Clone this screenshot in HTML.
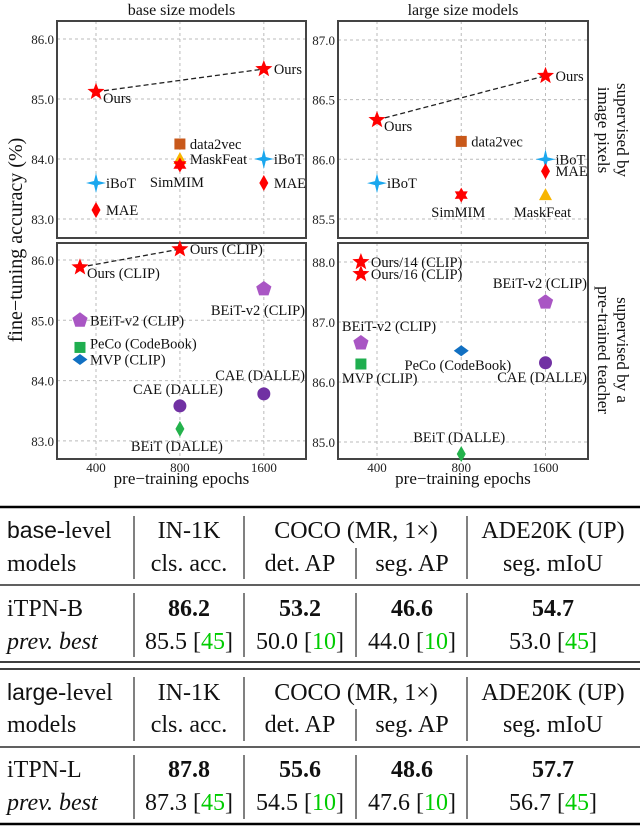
<!DOCTYPE html>
<html><head><meta charset="utf-8"><style>
body{margin:0;background:#fff;}
svg{display:block;font-family:"Liberation Serif",serif;}
</style></head><body>
<svg id="fig" width="640" height="827" viewBox="0 0 640 827">
<g id="charts"></g>
<g id="table" font-size="24" fill="#111">
  <line x1="0" y1="507" x2="640" y2="507" stroke="#000" stroke-width="2.5"/>
  <line x1="0" y1="585" x2="640" y2="585" stroke="#000" stroke-width="1.2"/>
  <line x1="0" y1="662" x2="640" y2="662" stroke="#000" stroke-width="1.5"/>
  <line x1="0" y1="669" x2="640" y2="669" stroke="#000" stroke-width="1.5"/>
  <line x1="0" y1="747" x2="640" y2="747" stroke="#000" stroke-width="1.2"/>
  <line x1="0" y1="824" x2="640" y2="824" stroke="#000" stroke-width="2.5"/>
  <g stroke="#000" stroke-width="1">
    <line x1="134" y1="516" x2="134" y2="579"/><line x1="244" y1="516" x2="244" y2="579"/><line x1="356" y1="548" x2="356" y2="579"/><line x1="467" y1="516" x2="467" y2="579"/>
    <line x1="134" y1="593" x2="134" y2="657"/><line x1="244" y1="593" x2="244" y2="657"/><line x1="356" y1="593" x2="356" y2="657"/><line x1="467" y1="593" x2="467" y2="657"/>
    <line x1="134" y1="677" x2="134" y2="741"/><line x1="244" y1="677" x2="244" y2="741"/><line x1="356" y1="709" x2="356" y2="741"/><line x1="467" y1="677" x2="467" y2="741"/>
    <line x1="134" y1="755" x2="134" y2="819"/><line x1="244" y1="755" x2="244" y2="819"/><line x1="356" y1="755" x2="356" y2="819"/><line x1="467" y1="755" x2="467" y2="819"/>
  </g>
  <g>
    <text x="7" y="538"><tspan font-family="Liberation Sans, sans-serif" font-size="23">base</tspan>-level</text>
    <text x="7" y="571">models</text>
    <text x="189" y="538" text-anchor="middle">IN-1K</text>
    <text x="189" y="571" text-anchor="middle">cls. acc.</text>
    <text x="356" y="538" text-anchor="middle">COCO (MR, 1×)</text>
    <text x="300" y="571" text-anchor="middle">det. AP</text>
    <text x="412" y="571" text-anchor="middle">seg. AP</text>
    <text x="553" y="538" text-anchor="middle">ADE20K (UP)</text>
    <text x="553" y="571" text-anchor="middle">seg. mIoU</text>
  </g>
  <g>
    <text x="7" y="616">iTPN-B</text>
    <text x="189" y="616" text-anchor="middle" font-weight="bold">86.2</text>
    <text x="300" y="616" text-anchor="middle" font-weight="bold">53.2</text>
    <text x="412" y="616" text-anchor="middle" font-weight="bold">46.6</text>
    <text x="553" y="616" text-anchor="middle" font-weight="bold">54.7</text>
    <text x="7" y="649" font-style="italic">prev. best</text>
    <text x="189" y="649" text-anchor="middle">85.5 [<tspan fill="#0c0">45</tspan>]</text>
    <text x="300" y="649" text-anchor="middle">50.0 [<tspan fill="#0c0">10</tspan>]</text>
    <text x="412" y="649" text-anchor="middle">44.0 [<tspan fill="#0c0">10</tspan>]</text>
    <text x="553" y="649" text-anchor="middle">53.0 [<tspan fill="#0c0">45</tspan>]</text>
  </g>
  <g>
    <text x="7" y="700"><tspan font-family="Liberation Sans, sans-serif" font-size="23">large</tspan>-level</text>
    <text x="7" y="732">models</text>
    <text x="189" y="700" text-anchor="middle">IN-1K</text>
    <text x="189" y="732" text-anchor="middle">cls. acc.</text>
    <text x="356" y="700" text-anchor="middle">COCO (MR, 1×)</text>
    <text x="300" y="732" text-anchor="middle">det. AP</text>
    <text x="412" y="732" text-anchor="middle">seg. AP</text>
    <text x="553" y="700" text-anchor="middle">ADE20K (UP)</text>
    <text x="553" y="732" text-anchor="middle">seg. mIoU</text>
  </g>
  <g>
    <text x="7" y="777">iTPN-L</text>
    <text x="189" y="777" text-anchor="middle" font-weight="bold">87.8</text>
    <text x="300" y="777" text-anchor="middle" font-weight="bold">55.6</text>
    <text x="412" y="777" text-anchor="middle" font-weight="bold">48.6</text>
    <text x="553" y="777" text-anchor="middle" font-weight="bold">57.7</text>
    <text x="7" y="810" font-style="italic">prev. best</text>
    <text x="189" y="810" text-anchor="middle">87.3 [<tspan fill="#0c0">45</tspan>]</text>
    <text x="300" y="810" text-anchor="middle">54.5 [<tspan fill="#0c0">10</tspan>]</text>
    <text x="412" y="810" text-anchor="middle">47.6 [<tspan fill="#0c0">10</tspan>]</text>
    <text x="553" y="810" text-anchor="middle">56.7 [<tspan fill="#0c0">45</tspan>]</text>
  </g>
</g>
</svg>
<script>
// ---- data ----
const xEpochTicks = [400, 800, 1600];
const xTickLabels = ["400", "800", "1600"];
// top-left: base, image pixels
const tlNames = ["Ours","Ours","data2vec","MaskFeat","SimMIM","iBoT","iBoT","MAE","MAE"];
const tlEpochs = [400,1600,800,800,800,400,1600,400,1600];
const tlAcc = [85.12,85.5,84.25,84.0,83.9,83.6,84.0,83.15,83.6];
const tlTicks = [83.0,84.0,85.0,86.0];
// top-right: large, image pixels
const trNames = ["Ours","Ours","data2vec","iBoT","iBoT","SimMIM","MAE","MaskFeat"];
const trEpochs = [400,1600,800,400,1600,800,1600,1600];
const trAcc = [86.33,86.7,86.15,85.8,86.0,85.7,85.9,85.7];
const trTicks = [85.5,86.0,86.5,87.0];
// bottom-left: base, teacher
const blNames = ["Ours (CLIP)","Ours (CLIP)","BEiT-v2 (CLIP)","BEiT-v2 (CLIP)","PeCo (CodeBook)","MVP (CLIP)","CAE (DALLE)","CAE (DALLE)","BEiT (DALLE)"];
const blEpochs = [300,800,1600,300,300,300,800,1600,800];
const blAcc = [85.88,86.18,85.52,85.0,84.55,84.35,83.58,83.78,83.2];
const blTicks = [83.0,84.0,85.0,86.0];
// bottom-right: large, teacher
const brNames = ["Ours/14 (CLIP)","Ours/16 (CLIP)","BEiT-v2 (CLIP)","BEiT-v2 (CLIP)","MVP (CLIP)","PeCo (CodeBook)","CAE (DALLE)","BEiT (DALLE)"];
const brEpochs = [300,300,1600,300,300,800,1600,800];
const brAcc = [88.0,87.8,87.33,86.65,86.3,86.52,86.32,84.8];
const brTicks = [85.0,86.0,87.0,88.0];

// ---- styling (not data) ----
const C = {red:"#ff0000",ibot:"#1aa7ee",d2v:"#c8581a",mf:"#f7b500",pent:"#a956c4",peco:"#1fae4f",mvp:"#1170c2",cae:"#7131a3",beit:"#24b24c"};
const panels = [
 {key:"tl",names:tlNames,ep:tlEpochs,acc:tlAcc,ticks:tlTicks,x0:57,x1:306,y0:21,y1:238,yv0:86.0,yp0:39,ppu:60,
  mk:["star","star","square","tri","star6","star4","star4","diamond","diamond"],
  col:[C.red,C.red,C.d2v,C.mf,C.red,C.ibot,C.ibot,C.red,C.red],
  lab:["rb","r","r","r","b","r","r","r","r"],line:[0,1],title:"base size models"},
 {key:"tr",names:trNames,ep:trEpochs,acc:trAcc,ticks:trTicks,x0:338,x1:588,y0:21,y1:238,yv0:87.0,yp0:40,ppu:119.3,
  mk:["star","star","square","star4","star4","star6","diamond","tri"],
  col:[C.red,C.red,C.d2v,C.ibot,C.ibot,C.red,C.red,C.mf],
  lab:["rb","r","r","r","r","b","r","b"],line:[0,1],title:"large size models"},
 {key:"bl",names:blNames,ep:blEpochs,acc:blAcc,ticks:blTicks,x0:57,x1:306,y0:243,y1:459,yv0:86.0,yp0:260,ppu:60.3,
  mk:["star","star","pent","pent","square","diamondw","circle","circle","diamond"],
  col:[C.red,C.red,C.pent,C.pent,C.peco,C.mvp,C.cae,C.cae,C.beit],
  lab:["rb","r","bl2","r","rt","r","t","tl2","b"],line:[0,1]},
 {key:"br",names:brNames,ep:brEpochs,acc:brAcc,ticks:brTicks,x0:338,x1:588,y0:243,y1:459,yv0:88.0,yp0:262,ppu:60,
  mk:["star","star","pent","pent","square","diamondw","circle","diamond"],
  col:[C.red,C.red,C.pent,C.pent,C.peco,C.mvp,C.cae,C.beit],
  lab:["r","r","tl2","tr2","br2","bl3","bl4","t"],line:null}
];
const NS="http://www.w3.org/2000/svg";
const root=document.getElementById("charts");
function el(tag,attrs,parent){const e=document.createElementNS(NS,tag);for(const k in attrs)e.setAttribute(k,attrs[k]);(parent||root).appendChild(e);return e;}
function xScale(p,e){
  const base=p.x0+39, step=(p.x1-p.x0)*0.337;
  let v=base+Math.log2(e/400)*step;
  if(e<400) v=base+(Math.log2(e/400))*step*0.46;
  return v;}
function yScale(p,a){return p.yp0+(p.yv0-a)*p.ppu;}
function starPath(cx,cy,n,ro,ri){let d="";for(let i=0;i<2*n;i++){const r=i%2?ri:ro;const a=-Math.PI/2+i*Math.PI/n;d+=(i?"L":"M")+(cx+r*Math.cos(a)).toFixed(2)+","+(cy+r*Math.sin(a)).toFixed(2);}return d+"Z";}
function marker(g,type,x,y,c){
  let m;
  if(type==="star")m=el("path",{d:starPath(x,y,5,9,3.8),fill:c},g);
  else if(type==="star6")m=el("path",{d:starPath(x,y,6,7.5,4.3),fill:c},g);
  else if(type==="star4")m=el("path",{d:starPath(x,y,4,10,2.8),fill:c},g);
  else if(type==="square")m=el("rect",{x:x-5.5,y:y-5.5,width:11,height:11,fill:c},g);
  else if(type==="tri")m=el("path",{d:`M${x},${y-7}L${x+6.5},${y+5}L${x-6.5},${y+5}Z`,fill:c},g);
  else if(type==="diamond")m=el("path",{d:`M${x},${y-8}L${x+4.5},${y}L${x},${y+8}L${x-4.5},${y}Z`,fill:c},g);
  else if(type==="diamondw")m=el("path",{d:`M${x},${y-5.5}L${x+7.5},${y}L${x},${y+5.5}L${x-7.5},${y}Z`,fill:c},g);
  else if(type==="pent")m=el("path",{d:starPath(x,y,5,8,8*0.81).split("L").filter((s,i)=>i%2===0).join("L"),fill:c},g);
  else m=el("circle",{cx:x,cy:y,r:6.5,fill:c},g);
  
  
}
function label(g,code,x,y,t,p){
  let dx=10,dy=5,anc="start";
  switch(code){
    case "rb":dx=7;dy=11;break;
    case "b":dx=-3;dy=22;anc="middle";break;
    case "t":dx=-2;dy=-12;anc="middle";break;
    case "rt":dx=10;dy=1;break;
    case "bl2":dx=p.x1-x-1;dy=26;anc="end";break;
    case "tl2":dx=p.x1-x-1;dy=-14;anc="end";break;
    case "tr2":dx=-19;dy=-12;break;
    case "br2":dx=-19;dy=19;break;
    case "bl3":dx=50;dy=19;anc="end";break;
    case "bl4":dx=p.x1-x-1;dy=19;anc="end";break;
  }
  const tx=el("text",{x:x+dx,y:y+dy,"text-anchor":anc,"font-size":"14.5",fill:"#111"},g);
  tx.textContent=t;
  
  
}
panels.forEach(p=>{
  const g=el("g",{});
  
  
  p.ticks.forEach(v=>{const y=yScale(p,v);
    const l=el("line",{x1:p.x0,x2:p.x1,y1:y,y2:y,stroke:"#bbb","stroke-dasharray":"3,3","stroke-width":1},g);
    
    
    const t=el("text",{x:p.x0-3,y:y+5,"text-anchor":"end","font-size":"13",fill:"#222"},g);
    t.textContent=v.toFixed(1);
    
    
  });
  xEpochTicks.forEach((e,i)=>{const x=xScale(p,e);
    const l=el("line",{x1:x,x2:x,y1:p.y0,y2:p.y1,stroke:"#bbb","stroke-dasharray":"3,3","stroke-width":1},g);
    
    
    if(p.key==="bl"||p.key==="br"){
      const t=el("text",{x:x,y:p.y1+13,"text-anchor":"middle","font-size":"13",fill:"#222"},g);
      t.textContent=xTickLabels[i];
      
      
    }
  });
  const fr=el("rect",{x:p.x0,y:p.y0,width:p.x1-p.x0,height:p.y1-p.y0,fill:"none",stroke:"#444","stroke-width":2},g);
  
  
  if(p.line){const a=p.line[0],b=p.line[1];
    const dl=el("line",{x1:xScale(p,p.ep[a]),y1:yScale(p,p.acc[a]),x2:xScale(p,p.ep[b]),y2:yScale(p,p.acc[b]),stroke:"#222","stroke-dasharray":"5,3","stroke-width":1.3},g);
    
    }
  p.names.forEach((n,i)=>{const x=xScale(p,p.ep[i]),y=yScale(p,p.acc[i]);
    marker(g,p.mk[i],x,y,p.col[i]);label(g,p.lab[i],x,y,n,p);});
  if(p.title){const t=el("text",{x:(p.x0+p.x1)/2,y:15,"text-anchor":"middle","font-size":"16",fill:"#111"},g);
    t.textContent=p.title;
    
    }
  if(p.key==="bl"||p.key==="br"){const t=el("text",{x:(p.x0+p.x1)/2,y:484,"text-anchor":"middle","font-size":"17",fill:"#111"},g);
    t.textContent="pre−training  epochs";
    
    }
});
function rot(x,y,lines,name,size){
  const t=el("text",{transform:`translate(${x},${y}) rotate(${size[1]})`,"text-anchor":"middle","font-size":size[0],fill:"#111"});
  lines.forEach((s,i)=>{const sp=el("tspan",{x:0,dy:i?19:0},t);sp.textContent=s;});
  
  
}
rot(22,240,["fine−tuning accuracy (%)"],"y-axis-title",[20,-90]);
rot(617,130,["supervised by","image pixels"],"right-title-top",[17,90]);
rot(617,350,["supervised by a","pre-trained teacher"],"right-title-bottom",[17,90]);
</script>
</body></html>
